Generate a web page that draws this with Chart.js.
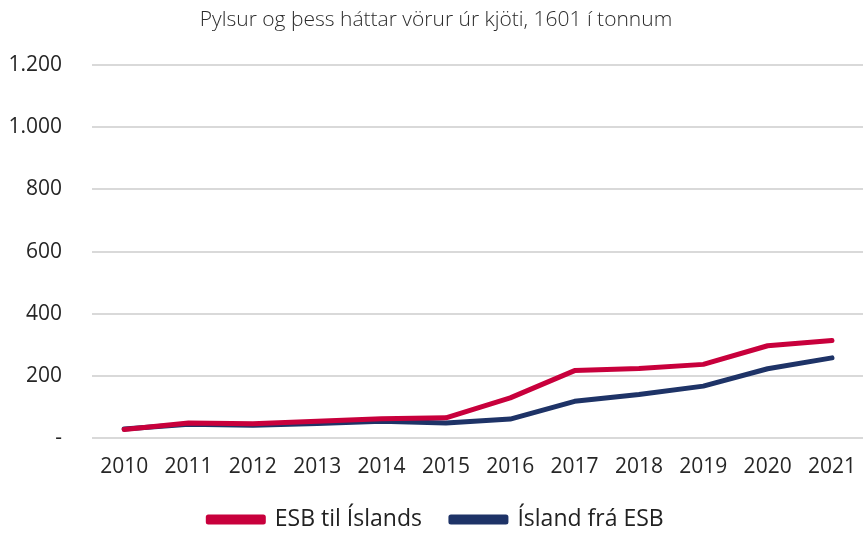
<!DOCTYPE html>
<html>
<head>
<meta charset="utf-8">
<script src="https://cdn.jsdelivr.net/npm/chart.js@4"></script>
<style>
  html, body { margin: 0; padding: 0; background: #fff; overflow: hidden; }
  #box { width: 872px; height: 533px; }
</style>
</head>
<body>
<div id="box"><canvas id="grafico"></canvas></div>
<script>
// dados
var anos = ['2010','2011','2012','2013','2014','2015','2016','2017','2018','2019','2020','2021'];
var esbTilIslands = [27, 48, 46, 54, 62, 65, 129, 217, 224, 237, 297, 314];
var islandFraEsb = [29, 44, 41, 47, 54, 48, 61, 118, 140, 167, 223, 258];
var tituloGrafico = 'Pylsur og þess háttar vörur úr kjöti, 1601 í tonnum';

var fonte = 'Open Sans';

function formatar(v) {
    if (v === 0) return '-';
    return String(v).replace(/\B(?=(\d{3})+(?!\d))/g, '.');
}

var dados = {
    labels: anos,
    datasets: [
        {
            label: 'ESB til Íslands',
            data: esbTilIslands,
            borderColor: '#C8003C',
            backgroundColor: '#C8003C',
            borderWidth: 5,
            pointRadius: 0,
            borderCapStyle: 'round',
            borderJoinStyle: 'round',
            tension: 0
        },
        {
            label: 'Ísland frá ESB',
            data: islandFraEsb,
            borderColor: '#1E3367',
            backgroundColor: '#1E3367',
            borderWidth: 5,
            pointRadius: 0,
            borderCapStyle: 'round',
            borderJoinStyle: 'round',
            tension: 0
        }
    ]
};

const config = {
    type: 'line',
    data: dados,
    options: {
        responsive: true,
        maintainAspectRatio: false,
        animation: false,
        layout: { padding: { top: 4, bottom: -8, left: 0, right: 0 } },
        plugins: {
            title: {
                display: true,
                text: tituloGrafico,
                color: '#2b2b2b',
                font: { family: fonte, size: 21, weight: '300' },
                padding: { top: 3, bottom: 33 }
            },
            legend: {
                position: 'bottom',
                labels: {
                    color: '#222',
                    boxWidth: 55,
                    boxHeight: 5,
                    padding: 29,
                    font: { family: fonte, size: 23, weight: '400' }
                }
            },
            tooltip: { enabled: false }
        },
        scales: {
            x: {
                offset: true,
                clip: false,
                grid: { display: false, drawTicks: false },
                border: { display: false },
                ticks: {
                    color: '#262626',
                    padding: 16,
                    maxRotation: 0,
                    font: { family: fonte, size: 21, weight: '400' }
                },
                afterFit: function (escala) { escala.height = 41; }
            },
            y: {
                min: 0,
                max: 1200,
                grid: { color: '#d9d9d9', lineWidth: 2, drawTicks: false },
                border: { display: false },
                ticks: {
                    stepSize: 200,
                    color: '#262626',
                    padding: 30,
                    font: { family: fonte, size: 21, weight: '400' },
                    callback: function (v) { return formatar(v); }
                },
                afterFit: function (escala) { escala.width = 92; }
            }
        }
    }
};

var meuGrafico = new Chart(document.getElementById('grafico'), config);
</script>
</body>
</html>
